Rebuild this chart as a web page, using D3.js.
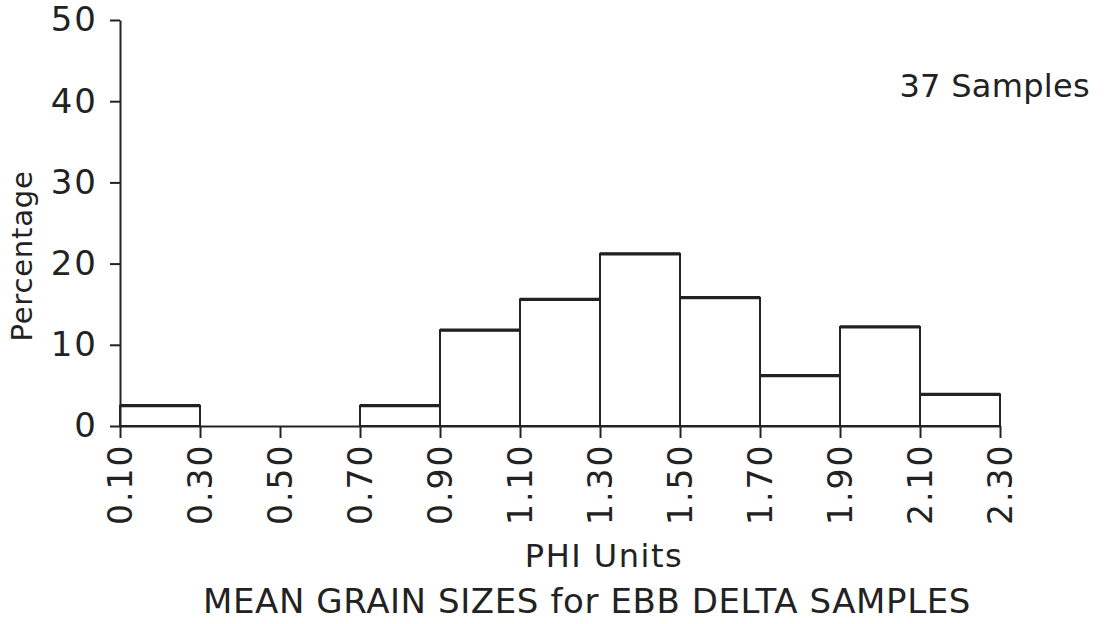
<!doctype html>
<html>
<head>
<meta charset="utf-8"/>
<title>Mean grain sizes</title>
<script src="https://d3js.org/d3.v7.min.js"></script>
<style>
body{margin:0;background:#fff;}
text{font-family:"DejaVu Sans",sans-serif;fill:#222;}
</style>
</head>
<body>
<script>
// bin edges (PHI units) and percentage per bin
var edges = [0.10,0.30,0.50,0.70,0.90,1.10,1.30,1.50,1.70,1.90,2.10,2.30];
var edgeLabels = ["0.10","0.30","0.50","0.70","0.90","1.10","1.30","1.50","1.70","1.90","2.10","2.30"];
var pct = [2.5,0,0,2.5,11.8,15.6,21.2,15.8,6.2,12.2,3.9];
var yTicks = [0,10,20,30,40,50];

var svg = d3.select("body").append("svg")
  .attr("width",1104).attr("height",624);

var x = d3.scaleLinear().domain([0.10,2.30]).range([120,1000]);
var y = d3.scaleLinear().domain([0,50]).range([426,20]);

// bars
var bins = pct.map(function(v,i){ return {x0:edges[i], x1:edges[i+1], v:v}; })
  .filter(function(d){ return d.v>0; });

svg.selectAll("rect.bar").data(bins).enter().append("rect")
  .attr("class","bar")
  .attr("x",function(d){ return x(d.x0); })
  .attr("y",function(d){ return y(d.v); })
  .attr("width",function(d){ return x(d.x1)-x(d.x0); })
  .attr("height",function(d){ return y(0)-y(d.v); })
  .attr("fill","none")
  .attr("stroke","#222")
  .attr("stroke-width",2);

// thicker tops
svg.selectAll("line.top").data(bins).enter().append("line")
  .attr("x1",function(d){ return x(d.x0); })
  .attr("x2",function(d){ return x(d.x1); })
  .attr("y1",function(d){ return y(d.v); })
  .attr("y2",function(d){ return y(d.v); })
  .attr("stroke","#222")
  .attr("stroke-width",3.2);

// x axis
var gx = svg.append("g").attr("transform","translate(0,"+y(0)+")")
  .call(d3.axisBottom(x).tickValues(edges).tickSize(12).tickSizeOuter(0)
    .tickFormat(function(d,i){ return edgeLabels[i]; }));
gx.select(".domain").attr("stroke","#222").attr("stroke-width",2);
gx.selectAll(".tick line").attr("stroke","#222").attr("stroke-width",2);
gx.selectAll(".tick text")
  .attr("transform","rotate(-90)")
  .attr("x",-99).attr("y",0).attr("dy","0.36em")
  .attr("text-anchor","start")
  .attr("font-size",33)
  .attr("letter-spacing",2)
  .attr("fill","#222");

// y axis
var gy = svg.append("g").attr("transform","translate("+x(0.10)+",0)")
  .call(d3.axisLeft(y).tickValues(yTicks).tickSize(10).tickSizeOuter(0));
gy.select(".domain").attr("stroke","#222").attr("stroke-width",2);
gy.selectAll(".tick line").attr("stroke","#222").attr("stroke-width",2);
gy.selectAll(".tick text")
  .attr("x",-22)
  .attr("font-size",34)
  .attr("letter-spacing",2)
  .attr("fill","#222");

// titles
svg.append("text")
  .attr("transform","translate(32,256) rotate(-90)")
  .attr("text-anchor","middle")
  .attr("font-size",29)
  .attr("letter-spacing",0.8)
  .text("Percentage");

svg.append("text")
  .attr("x",604).attr("y",567)
  .attr("text-anchor","middle")
  .attr("font-size",32)
  .attr("letter-spacing",1.5)
  .text("PHI Units");

svg.append("text")
  .attr("x",587).attr("y",613)
  .attr("text-anchor","middle")
  .attr("font-size",34)
  .attr("letter-spacing",0.6)
  .text("MEAN GRAIN SIZES for EBB DELTA SAMPLES");

svg.append("text")
  .attr("x",1090).attr("y",97)
  .attr("text-anchor","end")
  .attr("font-size",32)
  .attr("letter-spacing",0.3)
  .text("37 Samples");
</script>
</body>
</html>
